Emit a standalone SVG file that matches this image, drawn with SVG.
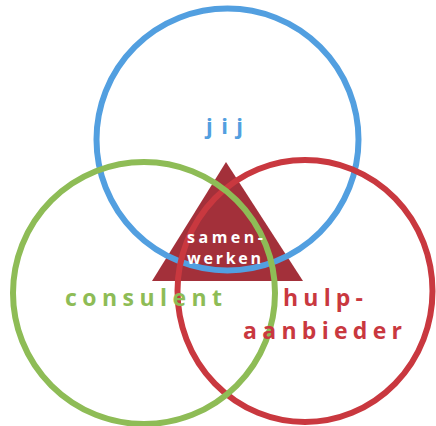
<svg xmlns="http://www.w3.org/2000/svg" width="436" height="426" viewBox="0 0 436 426">
<style>
.ring{fill:none;stroke-width:6}
.lbl{font-family:"Open Sans","DejaVu Sans",sans-serif;font-weight:700}
</style>
<rect width="436" height="426" fill="#ffffff"/>
<g id="samenwerken">
<polygon points="226,162 152,281 303,281" fill="#a3303a"/>
</g>
<g id="circles">
<circle id="jij-circle" class="ring" cx="227.5" cy="139.5" r="131" stroke="#529fe0"/>
<ellipse id="hulp-circle" class="ring" cx="305" cy="291" rx="127.5" ry="131" stroke="#c9383f"/>
<circle id="consulent-circle" class="ring" cx="144" cy="293" r="131" stroke="#8ebc56"/>
</g>
<g id="labels" class="lbl">
<text x="206" y="134" font-size="22" fill="#529fe0" textLength="37" lengthAdjust="spacing">jij</text>
<text x="187" y="243" font-size="16" fill="#ffffff" textLength="76" lengthAdjust="spacing">samen-</text>
<text x="187" y="264" font-size="16" fill="#ffffff" textLength="74" lengthAdjust="spacing">werken</text>
<text x="65" y="306" font-size="23" fill="#8ebc56" textLength="157" lengthAdjust="spacing">consulent</text>
<text x="283" y="306" font-size="23" fill="#c9383f" textLength="80" lengthAdjust="spacing">hulp-</text>
<text x="243" y="339" font-size="23" fill="#c9383f" textLength="159" lengthAdjust="spacing">aanbieder</text>
</g>
</svg>
